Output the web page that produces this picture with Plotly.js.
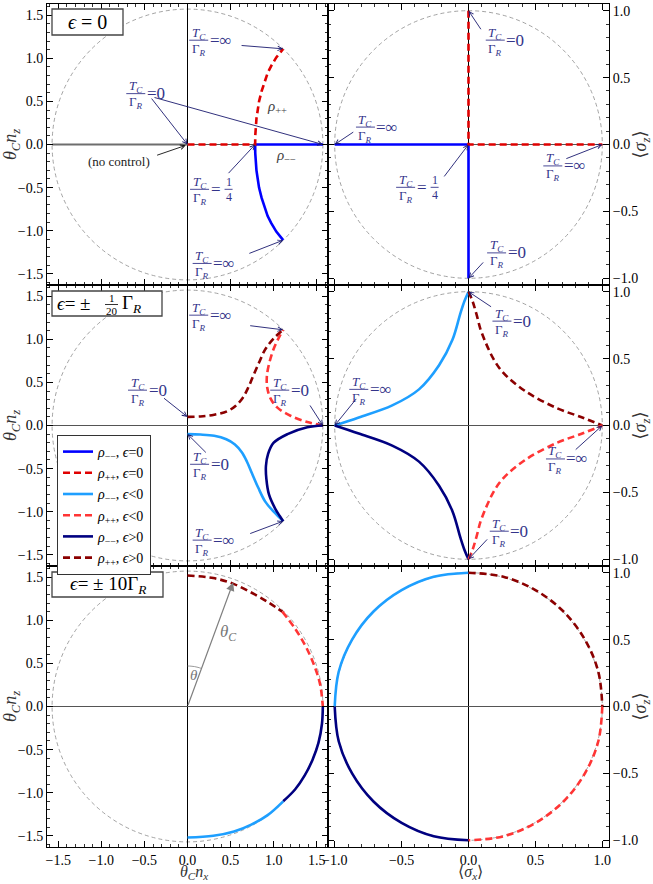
<!DOCTYPE html>
<html><head><meta charset="utf-8">
<script src="https://cdn.plot.ly/plotly-3.0.1.min.js"></script>
<style>html,body{margin:0;padding:0;background:#fff}</style>
</head><body><div id="chart" style="width:653px;height:884px"></div>
<script>
// ---------------- data ----------------
const guideR = [1.5708, 1.0];           // dashed guide-circle radii: left column, right column
// Panel A: eps = 0, theta_C n
const A_mm_x = [1.5708, 0.785, 0.786, 0.79, 0.80, 0.815, 0.83, 0.86, 0.89, 0.93, 0.97, 1.03, 1.11];
const A_mm_y = [0, 0, -0.1, -0.2, -0.3, -0.4, -0.5, -0.62, -0.72, -0.83, -0.91, -1.01, -1.11];
const A_pp_x = [0, 0.785, 0.786, 0.79, 0.80, 0.815, 0.83, 0.86, 0.89, 0.93, 0.97, 1.03, 1.11];
const A_pp_y = [0, 0, 0.1, 0.2, 0.3, 0.4, 0.5, 0.62, 0.72, 0.83, 0.91, 1.01, 1.11];
const A_nc_x = [-1.5708, 0];
const A_nc_y = [0, 0];
// Panel B: eps = 0, <sigma>
const B_mm_x = [-1, 0, 0];
const B_mm_y = [0, 0, -1];
const B_pp_x = [0, 0, 1];
const B_pp_y = [1, 0, 0];
// Panel C: eps = +-Gamma_R/20, theta_C n
const C_mmNeg_x = [0, 0.15, 0.31, 0.45, 0.55, 0.63, 0.69, 0.75, 0.82, 0.90, 1.0, 1.11];
const C_mmNeg_y = [-0.1, -0.105, -0.12, -0.16, -0.22, -0.31, -0.42, -0.56, -0.72, -0.88, -1.0, -1.11];
const C_ppNeg_x = [1.5708, 1.39, 1.2, 1.04, 0.96, 0.925, 0.92, 0.945, 1.0, 1.06, 1.11];
const C_ppNeg_y = [0, 0.04, 0.11, 0.21, 0.32, 0.44, 0.56, 0.71, 0.89, 1.02, 1.11];
const C_mmPos_x = [1.5708, 1.39, 1.16, 1.0, 0.935, 0.91, 0.915, 0.945, 1.02, 1.07, 1.11];
const C_mmPos_y = [0, -0.02, -0.1, -0.2, -0.33, -0.47, -0.62, -0.8, -0.97, -1.05, -1.11];
const C_ppPos_x = [0, 0.15, 0.31, 0.46, 0.56, 0.64, 0.70, 0.76, 0.83, 0.90, 1.0, 1.11];
const C_ppPos_y = [0.1, 0.105, 0.125, 0.165, 0.23, 0.32, 0.43, 0.57, 0.73, 0.88, 1.01, 1.11];
// Panel D: eps = +-Gamma_R/20, <sigma>
const D_mmNeg_x = [-1, -0.82, -0.57, -0.37, -0.22, -0.12, -0.06, -0.03, 0];
const D_mmNeg_y = [0, 0.06, 0.15, 0.27, 0.45, 0.64, 0.84, 0.93, 1];
const D_ppPos_x = [0, 0.03, 0.06, 0.1, 0.23, 0.42, 0.66, 0.85, 1];
const D_ppPos_y = [1, 0.93, 0.83, 0.69, 0.43, 0.26, 0.13, 0.06, 0];
const D_mmPos_x = [-1, -0.82, -0.57, -0.37, -0.22, -0.12, -0.06, -0.03, 0];
const D_mmPos_y = [0, -0.06, -0.15, -0.27, -0.45, -0.64, -0.84, -0.93, -1];
const D_ppNeg_x = [0, 0.03, 0.06, 0.1, 0.23, 0.42, 0.66, 0.85, 1];
const D_ppNeg_y = [-1, -0.93, -0.83, -0.69, -0.43, -0.26, -0.13, -0.06, 0];
// Panel E: eps = +-10 Gamma_R, theta_C n
const E_ppPos_x = [0, 0.3, 0.54, 0.78, 0.95, 1.1];
const E_ppPos_y = [1.52, 1.49, 1.42, 1.3, 1.2, 1.1];
const E_ppNeg_x = [1.1, 1.25, 1.38, 1.48, 1.54, 1.57];
const E_ppNeg_y = [1.1, 0.9, 0.68, 0.45, 0.25, 0];
const E_mmPos_x = [1.57, 1.56, 1.52, 1.45, 1.36, 1.25, 1.11];
const E_mmPos_y = [0, -0.2, -0.42, -0.62, -0.8, -0.96, -1.1];
const E_mmNeg_x = [1.11, 0.93, 0.74, 0.54, 0.3, 0];
const E_mmNeg_y = [-1.1, -1.26, -1.37, -1.45, -1.5, -1.52];
const E_theta_arc_x = [0, 0.041, 0.082, 0.122, 0.161];
const E_theta_arc_y = [0.47, 0.468, 0.463, 0.454, 0.442];
const E_thetaC_tip = [0.53, 1.44];
// Panel F: eps = +-10 Gamma_R, <sigma>
const F_mmNeg_x = [0, -0.26, -0.5, -0.71, -0.87, -0.97, -1];
const F_mmNeg_y = [1, 0.97, 0.87, 0.71, 0.5, 0.26, 0];
const F_mmPos_x = [-1, -0.97, -0.87, -0.71, -0.5, -0.26, 0];
const F_mmPos_y = [0, -0.26, -0.5, -0.71, -0.87, -0.97, -1];
const F_ppPos_x = [0, 0.26, 0.5, 0.71, 0.87, 0.97, 1];
const F_ppPos_y = [1, 0.97, 0.87, 0.71, 0.5, 0.26, 0];
const F_ppNeg_x = [1, 0.97, 0.87, 0.71, 0.5, 0.26, 0];
const F_ppNeg_y = [0, -0.26, -0.5, -0.71, -0.87, -0.97, -1];
// T_C/Gamma_R labels (fraction centre) and arrows (tail -> head)
const labelPanels = ['A','A','A','A','B','B','B','B','B','C','C','C','C','C','D','D','D','D'];
const labelX = [0.13,-0.60,0.14,0.17, 0.20,-0.77,-0.47,0.63,0.21, 0.13,-0.58,1.07,0.14,0.17, 0.25,-0.82,0.65,0.23];
const labelY = [1.21,0.59,-0.52,-1.38, 0.78,0.13,-0.32,-0.16,-0.81, 1.28,0.41,0.41,-0.45,-1.33, 0.78,0.27,-0.25,-0.79];
const labelVal = ['∞','0','1/4','∞', '0','∞','1/4','∞','0', '∞','0','0','0','∞', '0','∞','∞','0'];
const arrowPanels = ['A','A','A','A','A','B','B','B','B','B','C','C','C','C','C','D','D','D','D'];
const arrowTailX = [0.61,-0.43,-0.40,0.46,0.70, 0.10,-0.85,-0.19,0.72,0.12, 0.71,-0.29,1.41,0.23,0.71, 0.18,-0.83,0.79,0.15];
const arrowTailY = [1.15,0.55,0.55,-0.35,-1.27, 0.85,0.10,-0.25,-0.11,-0.87, 1.16,0.33,0.25,-0.33,-1.26, 0.88,0.21,-0.19,-0.84];
const arrowHeadX = [1.11,0,1.5708,0.785,1.11, 0,-1,0,1,0, 1.11,0,1.5708,0,1.11, 0,-1,1,0];
const arrowHeadY = [1.11,0,0,0,-1.11, 1,0,0,0,-1, 1.11,0.1,0,-0.1,-1.11, 1,0,0,-1];

// ---------------- styling ----------------
const FONT = "'Liberation Serif', 'DejaVu Serif', serif";
const COL = {blue:'#0000ff', red:'#e00000', lblue:'#1e9fff', lred:'#ff3535', navy:'#000080', dred:'#8b0000'};
const LBL = '#34348a', ARW = '#1a1a6e';
const ML = 47, MR = 44, MT = 4, MB = 37, W = 653, H = 884;
const PX = p => (p - ML) / (W - ML - MR);
const PY = p => 1 - (p - MT) / (H - MT - MB);
const suffixOf = {A:'',B:'2',C:'3',D:'4',E:'5',F:'6'};
const refs = p => ({xref:'x'+suffixOf[p], yref:'y'+suffixOf[p]});

const traces = [];
function addLine(p, x, y, color, dashed, name, legend, shape) {
  const r = refs(p);
  traces.push({type:'scatter', mode:'lines', x, y, xaxis:r.xref, yaxis:r.yref,
    line:{color, width:2.6, dash: dashed ? '7px,4px' : 'solid', shape: shape || 'linear', smoothing:1},
    name: name || '', showlegend: !!legend, hoverinfo:'skip'});
}
const NM = {
  mm0:'<i>ρ</i><sub>−−</sub>, <i>ϵ</i>=0', pp0:'<i>ρ</i><sub>++</sub>, <i>ϵ</i>=0',
  mmN:'<i>ρ</i><sub>−−</sub>, <i>ϵ</i>&lt;0', ppN:'<i>ρ</i><sub>++</sub>, <i>ϵ</i>&lt;0',
  mmP:'<i>ρ</i><sub>−−</sub>, <i>ϵ</i>&gt;0', ppP:'<i>ρ</i><sub>++</sub>, <i>ϵ</i>&gt;0'
};
// legend traces first (order)
addLine('A', A_mm_x, A_mm_y, COL.blue, false, NM.mm0, true);
addLine('A', A_pp_x, A_pp_y, COL.red, true, NM.pp0, true);
addLine('C', C_mmNeg_x, C_mmNeg_y, COL.lblue, false, NM.mmN, true, 'spline');
addLine('C', C_ppNeg_x, C_ppNeg_y, COL.lred, true, NM.ppN, true, 'spline');
addLine('C', C_mmPos_x, C_mmPos_y, COL.navy, false, NM.mmP, true, 'spline');
addLine('C', C_ppPos_x, C_ppPos_y, COL.dred, true, NM.ppP, true, 'spline');
// others
traces.push({type:'scatter', mode:'lines', x:A_nc_x, y:A_nc_y, xaxis:'x', yaxis:'y', line:{color:'#6e6e6e', width:2}, showlegend:false, hoverinfo:'skip'});
addLine('B', B_mm_x, B_mm_y, COL.blue, false);
addLine('B', B_pp_x, B_pp_y, COL.red, true);
addLine('D', D_mmNeg_x, D_mmNeg_y, COL.lblue, false, '', false, 'spline');
addLine('D', D_ppPos_x, D_ppPos_y, COL.dred, true, '', false, 'spline');
addLine('D', D_mmPos_x, D_mmPos_y, COL.navy, false, '', false, 'spline');
addLine('D', D_ppNeg_x, D_ppNeg_y, COL.lred, true, '', false, 'spline');
addLine('E', E_ppPos_x, E_ppPos_y, COL.dred, true, '', false, 'spline');
addLine('E', E_ppNeg_x, E_ppNeg_y, COL.lred, true, '', false, 'spline');
addLine('E', E_mmPos_x, E_mmPos_y, COL.navy, false, '', false, 'spline');
addLine('E', E_mmNeg_x, E_mmNeg_y, COL.lblue, false, '', false, 'spline');
traces.push({type:'scatter', mode:'lines', x:E_theta_arc_x, y:E_theta_arc_y, xaxis:'x5', yaxis:'y5', line:{color:'#808080', width:0.8, shape:'spline'}, showlegend:false, hoverinfo:'skip'});
addLine('F', F_mmNeg_x, F_mmNeg_y, COL.lblue, false, '', false, 'spline');
addLine('F', F_mmPos_x, F_mmPos_y, COL.navy, false, '', false, 'spline');
addLine('F', F_ppPos_x, F_ppPos_y, COL.dred, true, '', false, 'spline');
addLine('F', F_ppNeg_x, F_ppNeg_y, COL.lred, true, '', false, 'spline');

const annotations = [], shapes = [];
// dashed guide circles
['A','B','C','D','E','F'].forEach((p, i) => {
  const R = guideR[i % 2]; const r = refs(p);
  shapes.push({type:'circle', layer:'below', xref:r.xref, yref:r.yref, x0:-R, x1:R, y0:-R, y1:R,
    line:{color:'#8c8c8c', width:0.8, dash:'4px,3px'}});
});
function frac(p, x, y, num, den, size, dx, barW, dyN, dyD) {
  const r = refs(p);
  annotations.push({...r, x, y, text:num, showarrow:false, xanchor:'center', yanchor:'middle', xshift:dx, yshift:dyN, font:{size, color:LBL}, borderpad:0});
  annotations.push({...r, x, y, text:den, showarrow:false, xanchor:'center', yanchor:'middle', xshift:dx, yshift:dyD, font:{size, color:LBL}, borderpad:0});
  shapes.push({type:'line', xref:r.xref, yref:r.yref, xsizemode:'pixel', xanchor:x, x0:dx - barW/2, x1:dx + barW/2,
    ysizemode:'pixel', yanchor:y, y0:0, y1:0, line:{color:LBL, width:0.9}});
}
labelPanels.forEach((p, i) => {
  const x = labelX[i], y = labelY[i], r = refs(p);
  frac(p, x, y, '<i>T</i><sub><i>C</i></sub>', 'Γ<sub><i>R</i></sub>', 13, 0, 19, 7, -9);
  if (labelVal[i] === '1/4') {
    annotations.push({...r, x, y, text:'=', showarrow:false, xanchor:'left', yanchor:'middle', xshift:10, font:{size:17, color:LBL}, borderpad:0});
    frac(p, x, y, '1', '4', 12, 29, 8, 7, -8);
  } else {
    annotations.push({...r, x, y, text:'=' + labelVal[i], showarrow:false, xanchor:'left', yanchor:'middle', xshift:10, font:{size:17, color:LBL}, borderpad:0});
  }
});
arrowPanels.forEach((p, i) => {
  const r = refs(p);
  annotations.push({...r, x:arrowHeadX[i], y:arrowHeadY[i], ax:arrowTailX[i], ay:arrowTailY[i], axref:r.xref, ayref:r.yref,
    text:'', showarrow:true, arrowhead:5, arrowsize:1, arrowwidth:0.9, arrowcolor:ARW});
});
// panel A extra labels
annotations.push({xref:'x', yref:'y', x:-0.80, y:-0.20, text:'(no control)', showarrow:false, font:{size:13, color:'#222'}});
annotations.push({xref:'x', yref:'y', x:-0.02, y:-0.01, ax:-0.37, ay:-0.13, axref:'x', ayref:'y', text:'', showarrow:true, arrowhead:5, arrowsize:1, arrowwidth:0.9, arrowcolor:'#111'});
annotations.push({xref:'x', yref:'y', x:1.04, y:0.44, text:'<i>ρ</i><sub>++</sub>', showarrow:false, font:{size:15, color:'#444'}});
annotations.push({xref:'x', yref:'y', x:1.14, y:-0.13, text:'<i>ρ</i><sub>−−</sub>', showarrow:false, font:{size:15, color:'#444'}});
// panel E theta_C arrow and labels
annotations.push({xref:'x5', yref:'y5', x:E_thetaC_tip[0], y:E_thetaC_tip[1], ax:0, ay:0, axref:'x5', ayref:'y5', text:'', showarrow:true, arrowhead:2, arrowsize:1.4, arrowwidth:1.2, arrowcolor:'#808080'});
annotations.push({xref:'x5', yref:'y5', x:0.47, y:0.85, text:'<i>θ</i><sub><i>C</i></sub>', showarrow:false, font:{size:17, color:'#777'}});
annotations.push({xref:'x5', yref:'y5', x:0.07, y:0.36, text:'<i>θ</i>', showarrow:false, font:{size:15, color:'#777'}});
// epsilon boxes
function box(x0, y0, x1, y1) {
  shapes.push({type:'rect', xref:'paper', yref:'paper', x0:PX(x0), x1:PX(x1), y0:PY(y1), y1:PY(y0), fillcolor:'#fff', line:{color:'#444', width:1.3}, layer:'above'});
}
function ptext(x, y, text, size, xanchor, color) {
  annotations.push({xref:'paper', yref:'paper', x:PX(x), y:PY(y), xanchor: xanchor || 'center', yanchor:'middle', text, showarrow:false, font:{size, color: color || '#000'}, borderpad:0});
}
box(52, 9, 123, 35);
ptext(87.5, 22, '<i>ϵ</i> = 0', 20);
box(52, 291, 162, 316);
ptext(56, 304, '<i>ϵ</i>= ±', 19, 'left');
ptext(111.5, 298, '1', 11);
ptext(111.5, 311, '20', 11);
shapes.push({type:'line', xref:'paper', yref:'paper', x0:PX(105), x1:PX(118), y0:PY(304.5), y1:PY(304.5), line:{color:'#000', width:0.8}, layer:'above'});
ptext(121, 304, 'Γ<sub><i>R</i></sub>', 19, 'left');
box(52, 572, 163, 597);
ptext(107.5, 584.5, '<i>ϵ</i>= ± 10Γ<sub><i>R</i></sub>', 19);
// bottom axis titles
ptext(194, 872, '<i>θ</i><sub><i>C</i></sub><i>n</i><sub><i>x</i></sub>', 16, 'center', '#333');
ptext(470, 872, '⟨<i>σ</i><sub><i>x</i></sub>⟩', 16, 'center', '#333');

// ---------------- axes ----------------
const LR = [-1.63, 1.63], RR = [-1.05, 1.05];
function common() {
  return {showgrid:false, showline:true, linecolor:'#000', linewidth:1, mirror:'ticks', ticks:'inside', ticklen:6, tickwidth:1, tickcolor:'#000',
    dtick:0.5, tick0:0, tickformat:'.1f', tickfont:{size:14, color:'#000'}, fixedrange:true,
    minor:{dtick:0.1, tick0:0, ticks:'inside', ticklen:3, tickwidth:0.8, tickcolor:'#000', showgrid:false}};
}
function xax(domain, range, anchor, labels) {
  return Object.assign(common(), {domain, range, anchor, showticklabels:labels, zeroline:true, zerolinecolor:'#000', zerolinewidth:1});
}
function yax(domain, range, anchor, side, title) {
  return Object.assign(common(), {domain, range, anchor, side, zeroline:true, zerolinecolor:'#555', zerolinewidth:1.6,
    title:{text:title, font:{size:18, color:'#333'}, standoff:side === 'right' ? 2 : 6}});
}
const yL = '<i>θ</i><sub><i>C</i></sub><i>n</i><sub><i>z</i></sub>';
const yRt = '⟨<i>σ</i><sub><i>z</i></sub>⟩';
const rows = [[2/3, 1], [1/3, 2/3], [0, 1/3]];
const layout = {
  width:W, height:H, margin:{l:ML, r:MR, t:MT, b:MB}, paper_bgcolor:'#fff', plot_bgcolor:'#fff',
  font:{family:FONT, size:14, color:'#000'}, showlegend:true, hovermode:false,
  legend:{x:PX(57), y:PY(435), xanchor:'left', yanchor:'top', bgcolor:'#fff', bordercolor:'#333', borderwidth:1,
    font:{size:14, color:'#000'}, tracegroupgap:0, itemwidth:30},
  xaxis: xax([0, 0.5], LR, 'y', false), xaxis2: xax([0.5, 1], RR, 'y2', false),
  xaxis3: xax([0, 0.5], LR, 'y3', false), xaxis4: xax([0.5, 1], RR, 'y4', false),
  xaxis5: xax([0, 0.5], LR, 'y5', true), xaxis6: xax([0.5, 1], RR, 'y6', true),
  yaxis: yax(rows[0], LR, 'x', 'left', yL), yaxis2: yax(rows[0], RR, 'x2', 'right', yRt),
  yaxis3: yax(rows[1], LR, 'x3', 'left', yL), yaxis4: yax(rows[1], RR, 'x4', 'right', yRt),
  yaxis5: yax(rows[2], LR, 'x5', 'left', yL), yaxis6: yax(rows[2], RR, 'x6', 'right', yRt),
  annotations, shapes
};
Plotly.newPlot('chart', traces, layout, {displayModeBar:false, staticPlot:true});
</script></body></html>
